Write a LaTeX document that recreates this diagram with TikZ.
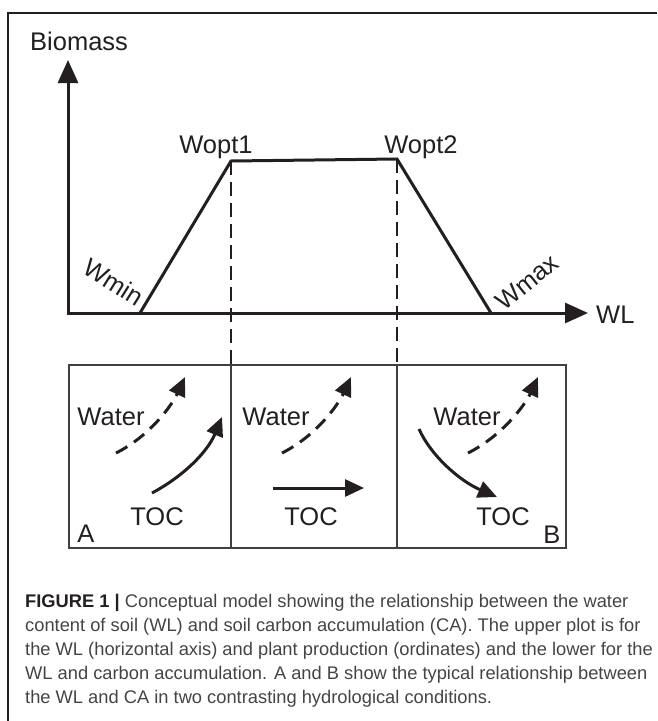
\documentclass[tikz,border=0pt]{standalone}
\usepackage{fontspec}
\setmainfont{Liberation Sans}
\usetikzlibrary{arrows.meta}
\definecolor{ink}{HTML}{231F20}
\definecolor{captext}{HTML}{444444}
\begin{document}
\begin{tikzpicture}[x=1pt,y=-1pt,
  lbl/.style={font=\fontsize{25.5}{30}\selectfont, text=ink, inner sep=0pt},
  capline/.style={font=\fontsize{18.3}{24}\selectfont, text=captext, inner sep=0pt, anchor=base west},
  axis/.style={line width=3pt, draw=ink, {Triangle[length=23pt,width=20pt]}-{Triangle[length=23pt,width=20pt]}},
  curve/.style={line width=3pt, draw=ink, line join=miter},
  guide/.style={line width=1.2pt, draw=ink, dash pattern=on 14pt off 7pt},
  panel/.style={line width=1.1pt, draw=black!75},
  flow/.style={line width=3pt, draw=ink, -{Triangle[length=19pt,width=17pt]}},
  wflow/.style={flow, dash pattern=on 13pt off 8pt},
]
\useasboundingbox (0,0) rectangle (657,721);
% frame
\coordinate (fb) at (8,721);
\coordinate (fc) at (8,13);
\coordinate (fr) at (657,13);
\draw[line width=1.5pt, draw=ink] (fb) -- (fc) -- (fr);

% axes
\coordinate (O) at (68,313);
\coordinate (ytip) at (68,60);
\coordinate (xtip) at (588,313);
\draw[axis] (ytip) -- (O) -- (xtip);
\node[lbl, anchor=base west] (biomass) at (30,50) {Biomass};
\node[lbl, anchor=base west] (wl) at (596,323) {WL};

% trapezoid
\coordinate (wmin) at (140,313);
\coordinate (wo1) at (231,161);
\coordinate (wo2) at (397,159);
\coordinate (wmax) at (491,313);
\draw[curve] (wmin) -- (wo1) -- (wo2) -- (wmax);
\node[lbl, anchor=base] (lo1) at (216,153) {Wopt1};
\node[lbl, anchor=base] (lo2) at (421,153) {Wopt2};
\node[lbl, rotate=-32] (lmin) at (114,282) {Wmin};
\node[lbl, rotate=39] (lmax) at (527,282) {Wmax};

% box
\coordinate (bTL) at (69,365);
\coordinate (bBR) at (566,548);
\coordinate (d1t) at (231,365);
\coordinate (d1b) at (231,548);
\coordinate (d2t) at (397,365);
\coordinate (d2b) at (397,548);
\draw[panel] (bTL) rectangle (bBR);
\draw[panel] (d1t) -- (d1b);
\draw[panel] (d2t) -- (d2b);
\draw[guide] (wo1) -- (d1t);
\draw[guide] (wo2) -- (d2t);

% panel A
\node[lbl, anchor=base] (waterA) at (111,425) {Water};
\node[lbl, anchor=base] (tocA) at (157,525) {TOC};
\node[lbl, anchor=base] (labA) at (86,542) {A};
\coordinate (wAs) at (116,453);
\coordinate (wAe) at (185,377);
\draw[wflow] (wAs) .. controls (150,436) and (172,405) .. (wAe);
\coordinate (tAs) at (152,493);
\coordinate (tAe) at (222,417);
\draw[flow] (tAs) .. controls (182,477) and (207,453) .. (tAe);

% panel middle
\node[lbl, anchor=base] (waterM) at (276,425) {Water};
\node[lbl, anchor=base] (tocM) at (311,525) {TOC};
\coordinate (wMs) at (282,453);
\coordinate (wMe) at (351,377);
\draw[wflow] (wMs) .. controls (316,436) and (338,405) .. (wMe);
\coordinate (tMs) at (273,488);
\coordinate (tMe) at (364,488);
\draw[flow] (tMs) -- (tMe);

% panel B
\node[lbl, anchor=base] (waterB) at (467,425) {Water};
\node[lbl, anchor=base] (tocB) at (503,525) {TOC};
\node[lbl, anchor=base] (labB) at (552,543) {B};
\coordinate (wBs) at (468,453);
\coordinate (wBe) at (538,377);
\draw[wflow] (wBs) .. controls (502,436) and (525,405) .. (wBe);
\coordinate (tBs) at (419,429);
\coordinate (tBe) at (497,497);
\draw[flow] (tBs) .. controls (431,456) and (460,481) .. (tBe);

% caption
\node[capline] (c1) at (25,607) {\textcolor{ink}{\textbf{FIGURE 1 |}} Conceptual model showing the relationship between the water};
\node[capline] (c2) at (25,631) {content of soil (WL) and soil carbon accumulation (CA). The upper plot is for};
\node[capline] (c3) at (25,655) {the WL (horizontal axis) and plant production (ordinates) and the lower for the};
\node[capline] (c4) at (25,679) {WL and carbon accumulation. A and B show the typical relationship between};
\node[capline] (c5) at (25,703) {the WL and CA in two contrasting hydrological conditions.};
\end{tikzpicture}
\end{document}
